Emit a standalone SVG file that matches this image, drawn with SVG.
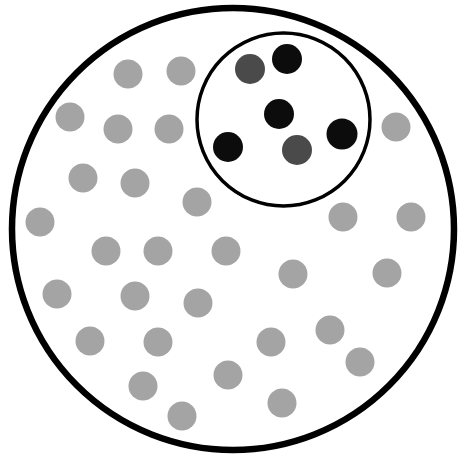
<svg xmlns="http://www.w3.org/2000/svg" width="465" height="466" viewBox="0 0 465 466">
<style>
.ring{fill:none;stroke:#000}
.g{fill:#a4a4a4}
.d{fill:#4a4a4a}
.k{fill:#0c0c0c}
</style>
<rect width="465" height="466" fill="#fff"/>
<circle class="ring" cx="233" cy="229" r="221" stroke-width="6.5"/>
<g id="light-dots">
<circle class="g" cx="128" cy="74" r="14.5"/>
<circle class="g" cx="181" cy="71" r="14.5"/>
<circle class="g" cx="70" cy="117" r="14.5"/>
<circle class="g" cx="118" cy="129" r="14.5"/>
<circle class="g" cx="169" cy="129" r="14.5"/>
<circle class="g" cx="396" cy="127" r="14.5"/>
<circle class="g" cx="83" cy="178" r="14.5"/>
<circle class="g" cx="135" cy="183" r="14.5"/>
<circle class="g" cx="197" cy="202" r="14.5"/>
<circle class="g" cx="40" cy="222" r="14.5"/>
<circle class="g" cx="343" cy="217" r="14.5"/>
<circle class="g" cx="411" cy="217" r="14.5"/>
<circle class="g" cx="106" cy="251" r="14.5"/>
<circle class="g" cx="158" cy="251" r="14.5"/>
<circle class="g" cx="226" cy="251" r="14.5"/>
<circle class="g" cx="293" cy="274" r="14.5"/>
<circle class="g" cx="387" cy="273" r="14.5"/>
<circle class="g" cx="57" cy="294" r="14.5"/>
<circle class="g" cx="135" cy="296" r="14.5"/>
<circle class="g" cx="198" cy="303" r="14.5"/>
<circle class="g" cx="90" cy="341" r="14.5"/>
<circle class="g" cx="158" cy="342" r="14.5"/>
<circle class="g" cx="271" cy="342" r="14.5"/>
<circle class="g" cx="330" cy="330" r="14.5"/>
<circle class="g" cx="360" cy="362" r="14.5"/>
<circle class="g" cx="228" cy="375" r="14.5"/>
<circle class="g" cx="143" cy="386" r="14.5"/>
<circle class="g" cx="282" cy="403" r="14.5"/>
<circle class="g" cx="182" cy="416" r="14.5"/>
</g>
<g id="inner-group">
<circle class="ring" cx="283.5" cy="119.5" r="86.5" stroke-width="3.5"/>
<circle class="d" cx="250" cy="69" r="15"/>
<circle class="k" cx="287" cy="59" r="15"/>
<circle class="k" cx="279" cy="114" r="15"/>
<circle class="k" cx="228" cy="147" r="15"/>
<circle class="d" cx="297" cy="150" r="15"/>
<circle class="k" cx="342" cy="134" r="15.5"/>
</g>
</svg>
